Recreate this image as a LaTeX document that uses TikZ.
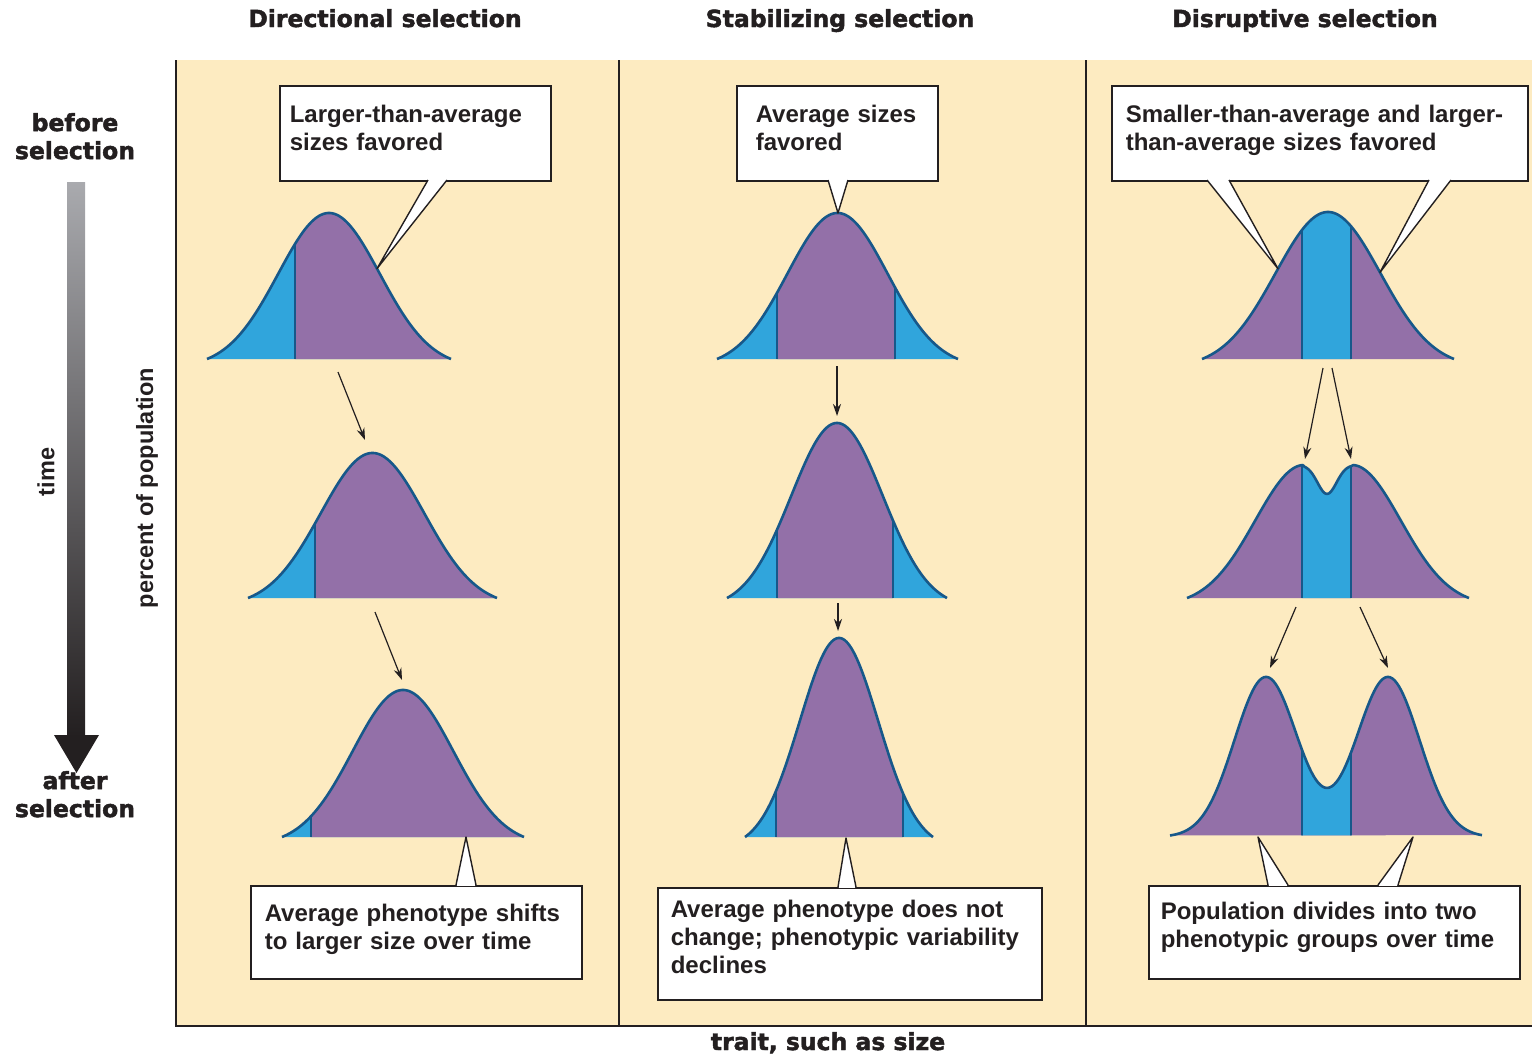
\documentclass[tikz,border=0pt]{standalone}
\usepackage{fontspec}
\newfontfamily\bubblefont{Liberation Sans}
\newfontfamily\tagfont{DejaVu Sans Bold}[FakeBold=2]
\usetikzlibrary{arrows.meta}
\definecolor{paper}{HTML}{FDEBC1}
\definecolor{popviolet}{HTML}{9370A8}
\definecolor{popblue}{HTML}{30A5DC}
\definecolor{edgeblue}{HTML}{17588A}
\definecolor{ink}{HTML}{231F20}
\definecolor{timegray}{HTML}{A9AAAE}

% #1 height in \x, #2 #3 ends, #4 baseline, #5 #6 cuts, #7 outer colour, #8 inner colour
\newcommand{\popcurve}[8]{%
  \begin{scope}
    \clip plot[domain=#2:#3,samples=140] (\x,{#4-(#1)}) -- cycle;
    \fill[#7] (#2,#4+3) rectangle (#3,#4-230);
    \fill[#8] (#5,#4+3) rectangle (#6,#4-230);
    \draw[cutline] (#5,#4) -- (#5,#4-230);
    \draw[cutline] (#6,#4) -- (#6,#4-230);
  \end{scope}
  \draw[curveline] plot[domain=#2:#3,samples=140] (\x,{#4-(#1)});
}
% #1 #2 base x, #3 base y, #4 tip
\newcommand{\pointer}[4]{%
  \fill[white] (#1,#3) -- (#4) -- (#2,#3) -- cycle;
  \fill[white] ({#1+1},{#3-1.2}) rectangle ({#2-1},{#3+1.2});
  \draw[bubbleline] (#1,#3) -- (#4) -- (#2,#3);
}

\begin{document}
\begin{tikzpicture}[x=1pt,y=-1pt,
  declare function={bell(\dx,\hw)=(exp(-2.88*(\dx/\hw)*(\dx/\hw))-0.0561)/0.9439;
    hump(\dx)=exp(-min(0.5*(\dx/31.5)*(\dx/31.5),12));},
  curveline/.style={edgeblue,line width=2.6pt,line join=round},
  cutline/.style={edgeblue,line width=2pt},
  frame/.style={ink,line width=2.4pt},
  flow/.style={ink,line width=1.2pt,-{Stealth[length=12pt,width=8pt]}},
  bubble/.style={draw=ink,line width=1.6pt,fill=white,anchor=north west,align=left,
    inner ysep=0pt,text height=17pt,text depth=38pt,text=ink,
    font=\bubblefont\bfseries\fontsize{24}{28}\selectfont},
  bubbleline/.style={ink,line width=1.4pt,line join=round},
  head/.style={text=ink,inner sep=0pt,font=\tagfont\fontsize{23.5}{28}\selectfont},
  axis/.style={text=ink,inner sep=0pt,font=\bubblefont\bfseries\fontsize{23.5}{26}\selectfont}]
\useasboundingbox (0,0) rectangle (1532,1055);

\fill[paper] (176,60) rectangle (1532,1026);
\draw[frame] (176,60) -- (176,1026) -- (1532,1026);
\draw[frame] (619,60) -- (619,1026);
\draw[frame] (1086,60) -- (1086,1026);

\node[head,anchor=base] (dirhead) at (385,27) {Directional selection};
\node[head,anchor=base] (stabhead) at (840,27) {Stabilizing selection};
\node[head,anchor=base] (disrhead) at (1305,27) {Disruptive selection};
\node[head,anchor=base] (trait) at (828,1050) {trait, such as size};

\node[head,anchor=north,align=center] (before) at (75,113) {before\\selection};
\node[head,anchor=north,align=center] (after) at (75,771) {after\\selection};
\shade[top color=timegray,bottom color=ink] (67,182) rectangle (85,737);
\fill[ink] (54,735) -- (99,735) -- (76.5,773) -- cycle;
\node[axis,rotate=90] (time) at (46,472) {time};
\node[axis,rotate=90] (percent) at (147,488) {percent of population};

\popcurve{146*bell(\x-329,122)}{207}{451}{359}{295}{470}{popblue}{popviolet}
\popcurve{145*bell(\x-372.5,124.5)}{248}{497}{598}{315}{510}{popblue}{popviolet}
\popcurve{147*bell(\x-403,121)}{282}{524}{837}{311}{540}{popblue}{popviolet}

\popcurve{146*bell(\x-837.5,120.5)}{717}{958}{359}{777}{895}{popblue}{popviolet}
\popcurve{175*bell(\x-837,110)}{727}{947}{598}{777}{893}{popblue}{popviolet}
\popcurve{199*bell(\x-839,94)}{745}{933}{837}{776}{903}{popblue}{popviolet}

\popcurve{147*bell(\x-1328,126)}{1202}{1454}{359}{1302}{1351}{popviolet}{popblue}
\popcurve{ifthenelse(\x<1304,133*bell(\x-1304,117),ifthenelse(\x>1352,133*bell(\x-1352,117),133-29*exp(-min(0.5*((\x-1327)/9.5)*((\x-1327)/9.5),12))))}{1187}{1469}{598}{1302}{1351}{popviolet}{popblue}
\popcurve{160*(hump(\x-1266)+hump(\x-1388))}{1170}{1482}{837}{1302}{1351}{popviolet}{popblue}

\coordinate (dirA) at (338,372);
\coordinate (dirB) at (365,440);
\coordinate (dirC) at (375,612);
\coordinate (dirD) at (402,680);
\draw[flow] (dirA) -- (dirB);
\draw[flow] (dirC) -- (dirD);
\coordinate (stabA) at (837,366);
\coordinate (stabB) at (837,416);
\coordinate (stabC) at (838,603);
\coordinate (stabD) at (838,631);
\draw[flow] (stabA) -- (stabB);
\draw[flow] (stabC) -- (stabD);
\coordinate (disrA) at (1323,368);
\coordinate (disrB) at (1305,459);
\coordinate (disrC) at (1332,368);
\coordinate (disrD) at (1351,459);
\coordinate (disrE) at (1296,607);
\coordinate (disrF) at (1270,668);
\coordinate (disrG) at (1360,607);
\coordinate (disrH) at (1388,668);
\draw[flow] (disrA) -- (disrB);
\draw[flow] (disrC) -- (disrD);
\draw[flow] (disrE) -- (disrF);
\draw[flow] (disrG) -- (disrH);

\node[bubble,text width=251pt,inner xsep=10pt,minimum height=95pt] (dirfav) at (279,85)
  {Larger-than-average\\sizes favored};
\node[bubble,text width=163pt,inner xsep=19pt,minimum height=95pt] (stabfav) at (736,85)
  {Average sizes\\favored};
\node[bubble,text width=388pt,inner xsep=14pt,minimum height=95pt] (disrfav) at (1111,85)
  {Smaller-than-average and larger-\\than-average sizes favored};
\node[bubble,text width=303pt,inner xsep=14pt,minimum height=93pt] (dirnote) at (250,885)
  {Average phenotype shifts\\to larger size over time};
\node[bubble,text width=358pt,inner xsep=13pt,minimum height=112pt,text depth=69pt] (stabnote) at (657,887)
  {Average phenotype does not\\change; phenotypic variability\\declines};
\node[bubble,text width=347pt,inner xsep=12pt,minimum height=93pt,text depth=42pt] (disrnote) at (1148,885)
  {Population divides into two\\phenotypic groups over time};

\coordinate (dirtip) at (377,{359-146*bell(48,122)});
\coordinate (stabtip) at (838,213);
\coordinate (disrtipL) at (1278,{359-147*bell(-50,126)});
\coordinate (disrtipR) at (1380,{359-147*bell(52,126)});
\pointer{428}{447}{180}{dirtip}
\pointer{828}{848}{180}{stabtip}
\pointer{1207}{1229}{180}{disrtipL}
\pointer{1429}{1451}{180}{disrtipR}
\coordinate (dirend) at (466,837);
\coordinate (stabend) at (846,838);
\coordinate (disrendL) at (1258,837);
\coordinate (disrendR) at (1413,837);
\pointer{456}{476}{885}{dirend}
\pointer{838}{856}{887}{stabend}
\pointer{1268}{1288}{885}{disrendL}
\pointer{1378}{1398}{885}{disrendR}
\end{tikzpicture}
\end{document}
